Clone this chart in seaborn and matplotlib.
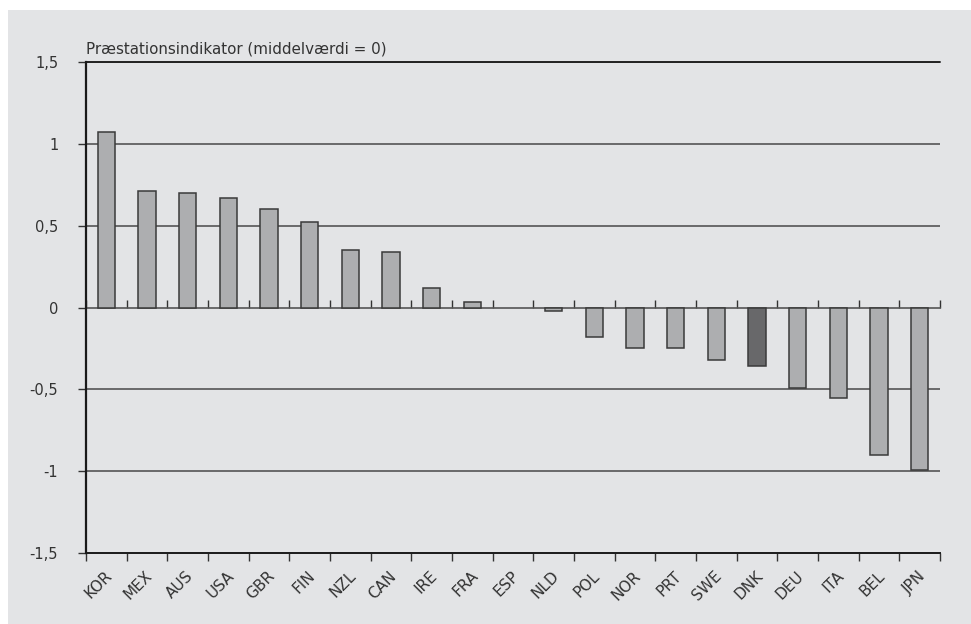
import matplotlib
matplotlib.use('Agg')
import matplotlib.pyplot as plt
import matplotlib.patches as mpatches
import matplotlib.transforms as mtransforms
from matplotlib.ticker import FixedLocator, FuncFormatter
import seaborn as sns
import pandas as pd
import numpy as np

countries = ['KOR', 'MEX', 'AUS', 'USA', 'GBR', 'FIN', 'NZL', 'CAN', 'IRE', 'FRA',
             'ESP', 'NLD', 'POL', 'NOR', 'PRT', 'SWE', 'DNK', 'DEU', 'ITA', 'BEL', 'JPN']
values = [1.07, 0.71, 0.70, 0.67, 0.60, 0.525, 0.35, 0.338, 0.12, 0.033,
          0.0, -0.024, -0.18, -0.25, -0.25, -0.32, -0.36, -0.49, -0.55, -0.90, -0.99]
highlight = 'DNK'
y_ticks = [-1.5, -1, -0.5, 0, 0.5, 1, 1.5]
title = 'Præstationsindikator (middelværdi = 0)'

BG = '#e3e4e6'
BAR = '#adaeb0'
BAR_DK = '#68676b'

df = pd.DataFrame({'land': countries, 'værdi': values})
palette = {c: (BAR_DK if c == highlight else BAR) for c in countries}

sns.set_theme(style='white')
plt.rcParams['font.family'] = ['DejaVu Sans']

fig = plt.figure(figsize=(9.71, 6.24), dpi=100)
fig.patch.set_facecolor('white')
fig.patches.append(mpatches.Rectangle((8 / 971, 0), 1 - 8 / 971, 1 - 10 / 624,
                                      transform=fig.transFigure, facecolor=BG,
                                      edgecolor='none', zorder=-10))
ax = fig.add_axes([86 / 971, 71 / 624, (940 - 86) / 971, (553 - 62) / 624])
ax.set_facecolor(BG)

sns.barplot(data=df, x='land', y='værdi', hue='land', palette=palette, legend=False,
            width=0.42, edgecolor='#3a3a3a', linewidth=1.1, ax=ax, zorder=3)
# zero-height bars are not drawn in the original
for p in ax.patches:
    if p.get_height() == 0:
        p.set_visible(False)

ax.set_xlim(-0.5, len(countries) - 0.5)
ax.set_ylim(-1.5, 1.5)
ax.set_xlabel('')
ax.set_ylabel('')

# y grid lines
for v in y_ticks:
    if v not in (0, -1.5):
        ax.axhline(v, color='#555555', lw=1.2, zorder=1)

ax.yaxis.set_major_locator(FixedLocator(y_ticks))
ax.yaxis.set_major_formatter(FuncFormatter(lambda v, p: f'{v:g}'.replace('.', ',')))
ax.tick_params(axis='y', direction='out', length=6, width=1, color='#333333',
               labelsize=10.5, labelcolor='#333333', pad=14, left=True)

# category boundaries as ticks
bounds = np.arange(len(countries) + 1) - 0.5
ax.xaxis.set_minor_locator(FixedLocator(bounds))
ax.tick_params(axis='x', which='major', length=0, labelsize=11, labelcolor='#333333',
               pad=11, labelrotation=45)
ax.tick_params(axis='x', which='minor', direction='out', length=6, width=1,
               color='#333333', bottom=True, top=True)
ax.tick_params(axis='x', which='both', labeltop=False)

# zero line uses top spine
ax.spines['top'].set_position(('data', 0))
ax.spines['top'].set_color('#555555')
ax.spines['top'].set_linewidth(1.2)
ax.spines['top'].set_zorder(2)
ax.spines['right'].set_visible(False)
ax.spines['left'].set_color('#1a1a1a')
ax.spines['left'].set_linewidth(1.6)
ax.spines['bottom'].set_color('#1a1a1a')
ax.spines['bottom'].set_linewidth(1.4)

# top grid line at 1,5
ax.axhline(1.5, color='#222222', lw=1.4, zorder=1, clip_on=False)

ax.text(0.0, 1.012, title, transform=ax.transAxes, ha='left', va='bottom',
        fontsize=10.9, color='#333333')

fig.canvas.draw()
shift = mtransforms.ScaledTranslation(-2 / 100, 0, fig.dpi_scale_trans)
for lab in ax.get_xticklabels():
    lab.set_ha('right')
    lab.set_rotation_mode('anchor')
    lab.set_transform(lab.get_transform() + shift)

fig.savefig('out.png', dpi=100, facecolor=fig.get_facecolor())
